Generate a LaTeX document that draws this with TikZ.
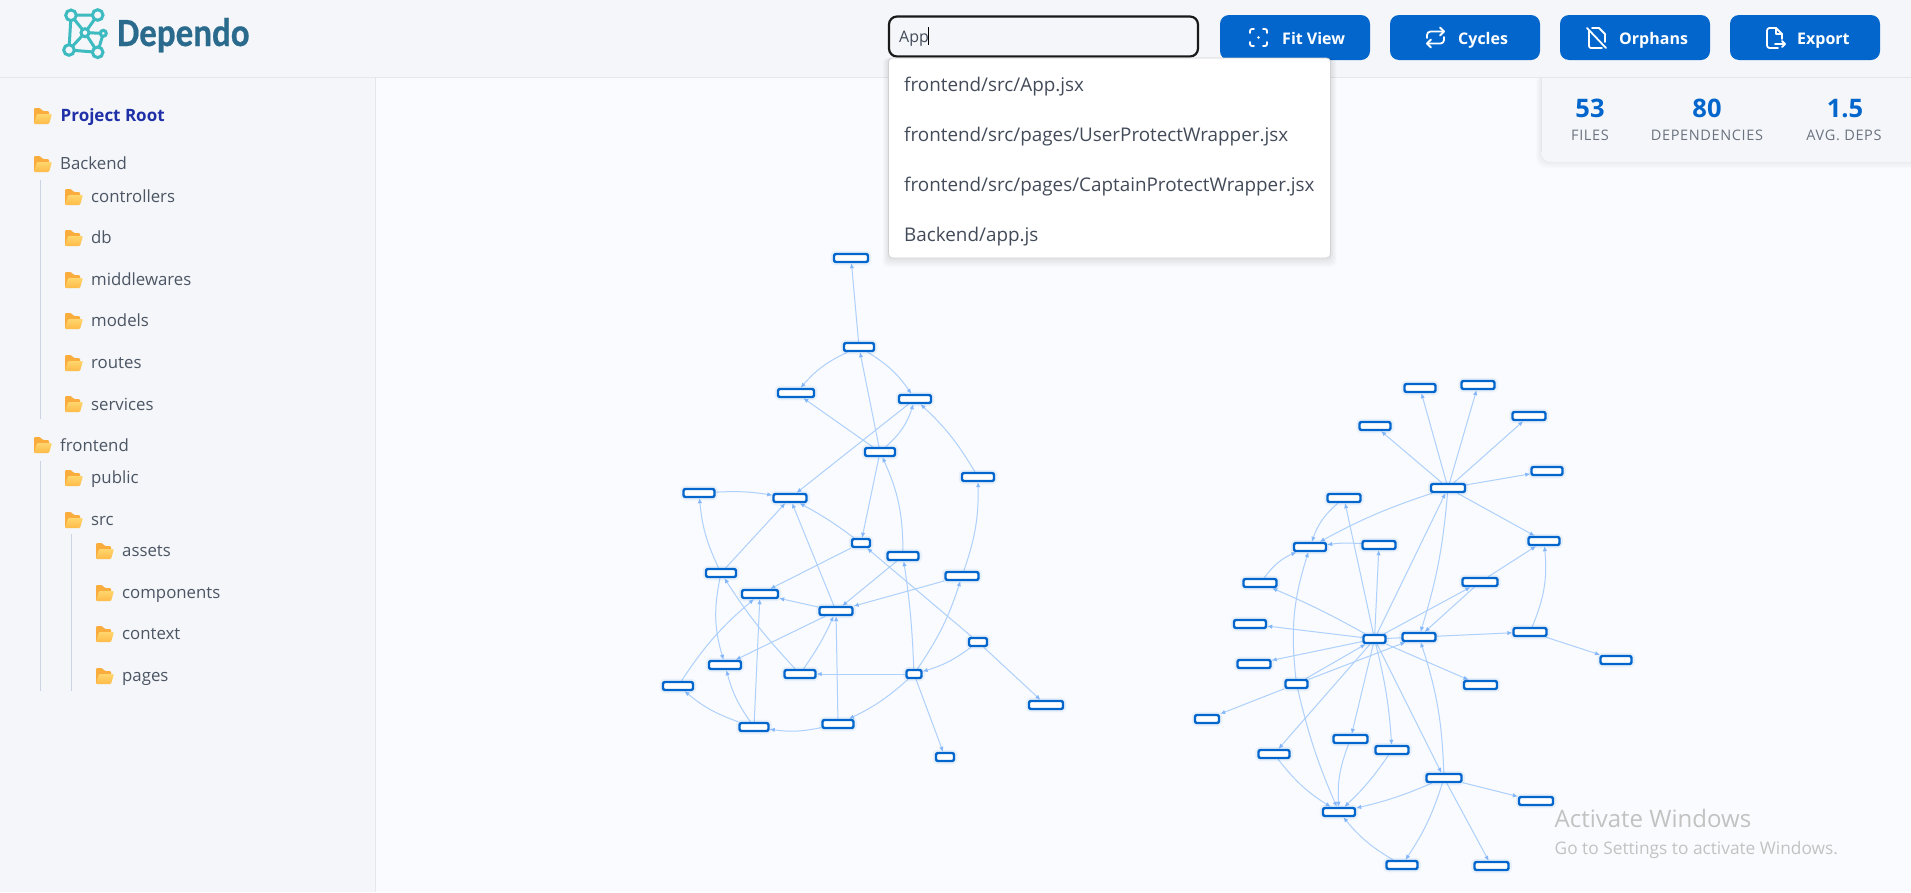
\documentclass[tikz,border=0pt]{standalone}
\usepackage{fontspec}
\setmainfont{Open Sans}
\newfontfamily\logofont[FakeBold=0.5]{Carlito}
\usetikzlibrary{arrows.meta}
\definecolor{panelbg}{HTML}{F4F6F9}
\definecolor{canvasbg}{HTML}{FAFBFE}
\definecolor{rulegray}{HTML}{E5E7EB}
\definecolor{treeline}{HTML}{CBD5E1}
\definecolor{btnblue}{HTML}{0366CC}
\definecolor{edgeblue}{HTML}{ADD0FC}
\definecolor{tipblue}{HTML}{85B8FB}
\definecolor{treetext}{HTML}{4B5563}
\definecolor{droptext}{HTML}{434B5A}
\definecolor{rootblue}{HTML}{1E2FA8}
\definecolor{logoteal}{HTML}{3DBBC0}
\definecolor{logotext}{HTML}{2A6A8C}
\definecolor{statlabel}{HTML}{6B7280}
\definecolor{winmark}{HTML}{C2C2C2}
\pgfdeclarelayer{base}
\pgfdeclarelayer{edges}
\pgfsetlayers{base,edges,main}
\tikzset{
  fnode/.style={draw=btnblue,line width=2.4pt,fill=white,rounded corners=2pt,minimum height=8pt,inner sep=0pt,
    preaction={draw=btnblue,line width=6.5pt,opacity=.07}},
  dep/.style={draw=edgeblue,line width=1pt,-{Latex[length=5pt,width=4.5pt,color=tipblue]}},
  treelab/.style={anchor=base west,inner sep=0pt,text=treetext,font=\fontsize{16.8}{20}\selectfont},
  droplab/.style={anchor=base west,inner sep=0pt,text=droptext,font=\fontsize{18.85}{22}\selectfont},
  btn/.style={fill=btnblue,draw=none,rounded corners=9pt,minimum width=150pt,minimum height=45pt,inner sep=0pt},
  btnlab/.style={anchor=base west,inner sep=0pt,text=white,font=\bfseries\fontsize{16}{20}\selectfont},
  statnum/.style={anchor=base,inner sep=0pt,text=btnblue,font=\bfseries\fontsize{25.5}{30}\selectfont},
  statlab/.style={anchor=base,inner sep=0pt,text=statlabel,font=\fontsize{14.5}{18}\selectfont\addfontfeatures{LetterSpace=4.4}},
  ico/.style={draw=white,line width=1.8pt,line cap=round,line join=round},
  pics/folderic/.style={code={
    \fill[color={rgb,255:red,250;green,172;blue,60},rounded corners=1pt] (0,0)--(6,0)--(9,3)--(15,3)--(15,8)--(0,16)--cycle;
    \shade[top color={rgb,255:red,255;green,214;blue,110},bottom color={rgb,255:red,255;green,186;blue,72},rounded corners=1pt] (3,6)--(18,6)--(15,16)--(0,16)--cycle;
  }}
}
\newcommand{\fnod}[4]{\node[fnode,minimum width=#4pt] (#1) at (#2,#3) {};}
\newcommand{\treeitem}[5]{\pic at (#2,#4) {folderic}; \node[treelab] (#1) at (#3,#5) {#1};}
\begin{document}
\begin{tikzpicture}[x=1pt,y=-1pt]
\useasboundingbox (0,0) rectangle (1911,892);
\begin{pgfonlayer}{base}
\fill[canvasbg] (0,0) rectangle (1911,892);
\fill[panelbg] (0,0) rectangle (1911,77.5);
\fill[panelbg] (0,77.5) rectangle (375,892);
\draw[rulegray,line width=1pt] (0,77.5) -- (1911,77.5);
\draw[rulegray,line width=1pt] (375.5,77.5) -- (375.5,892);
\end{pgfonlayer}
% logo
\begin{scope}[draw=logoteal,line width=3pt]
\draw (71,15.3) -- (97.7,15) (71,15.3) -- (85,32.7) -- (97.7,52.3) (97.7,15) -- (85,32.7) -- (69,50) (69,50) -- (97.7,52.3) (85,32.7) -- (103.3,33.3) -- (97.7,52.3) (71,15.3) -- (69,50);
\draw[fill=panelbg] (71,15.3) circle (5.3) (97.7,15) circle (5.3) (85,32.7) circle (4) (103.3,33.3) circle (3) (69,50) circle (5.3) (97.7,52.3) circle (5.3);
\end{scope}
\node[anchor=base west,inner sep=0pt,text=logotext,font=\logofont\bfseries\fontsize{40}{44}\selectfont] (logotitle) at (117,46) {\scalebox{.875}[1]{Dependo}};
% tree
\draw[treeline,line width=1pt] (40.5,180) -- (40.5,419);
\draw[treeline,line width=1pt] (40.5,461) -- (40.5,691);
\draw[treeline,line width=1pt] (71.5,534) -- (71.5,691);
\pic at (34,108) {folderic};
\node[treelab,text=rootblue,font=\bfseries\fontsize{17}{20}\selectfont] (root) at (60.5,121) {Project Root};
\treeitem{Backend}{34}{60}{156}{169.5}
\treeitem{controllers}{65}{91}{189}{202.5}
\treeitem{db}{65}{91}{230}{243.5}
\treeitem{middlewares}{65}{91}{272}{285.5}
\treeitem{models}{65}{91}{313}{326.5}
\treeitem{routes}{65}{91}{355}{368.5}
\treeitem{services}{65}{91}{396}{410}
\treeitem{frontend}{34}{60}{437}{451}
\treeitem{public}{65}{91}{470}{483}
\treeitem{src}{65}{91}{512}{525}
\treeitem{assets}{96}{122}{543}{556}
\treeitem{components}{96}{122}{585}{598}
\treeitem{context}{96}{122}{626}{639}
\treeitem{pages}{96}{122}{668}{681}
% buttons
\node[btn] (bfit) at (1295,37.5) {};
\node[btn] (bcyc) at (1465,37.5) {};
\node[btn] (borph) at (1635,37.5) {};
\node[btn] (bexp) at (1805,37.5) {};
\node[btnlab] (lfit) at (1282,44.5) {Fit View};
\node[btnlab] (lcyc) at (1458,44.5) {Cycles};
\node[btnlab] (lorph) at (1619,44.5) {Orphans};
\node[btnlab] (lexp) at (1797,44.5) {Export};
% fit icon
\draw[ico,rounded corners=2pt] (1250,33) -- (1250,29) -- (1254,29);
\draw[ico,rounded corners=2pt] (1263,29) -- (1267,29) -- (1267,33);
\draw[ico,rounded corners=2pt] (1250,42) -- (1250,46) -- (1254,46);
\draw[ico,rounded corners=2pt] (1263,46) -- (1267,46) -- (1267,42);
\fill[white] (1258.5,37.5) circle (1.4);
% cycle icon
\draw[ico,rounded corners=3.5pt] (1427,38) -- (1427,31.5) -- (1444,31.5);
\draw[ico] (1440,27.5) -- (1444,31.5) -- (1440,35.5);
\draw[ico,rounded corners=3.5pt] (1444,37) -- (1444,43.5) -- (1427,43.5);
\draw[ico] (1431,39.5) -- (1427,43.5) -- (1431,47.5);
% orphan icon
\draw[ico,rounded corners=2pt] (1589,31) -- (1589,48) -- (1602,48);
\draw[ico] (1592,28) -- (1599,28) -- (1605,34) -- (1605,42);
\draw[ico] (1587,28) -- (1606,48);
% export icon
\draw[ico,rounded corners=2.5pt] (1778,48) -- (1767,48) -- (1767,28) -- (1776,28);
\draw[ico] (1776,28) -- (1782,34) -- (1782,39);
\draw[ico] (1776,28) -- (1776,34) -- (1782,34);
\draw[ico] (1775,44) -- (1785,44);
\draw[ico] (1782,41) -- (1785,44) -- (1782,47);
% stats
\foreach \k in {1,...,5}{\fill[black,opacity=.012,rounded corners=10pt] ({1541-\k},72) rectangle (1925,{162+\k*1.2});}
\fill[panelbg,rounded corners=10pt] (1541,70) rectangle (1925,162);
\draw[rulegray,line width=.8pt] (1541,77.5) -- (1541,152);
\fill[panelbg] (1530,67) rectangle (1911,77);
\draw[rulegray,line width=1pt] (1000,77.5) -- (1911,77.5);
\node[statnum] (n1) at (1590,117) {53};
\node[statnum] (n2) at (1707,117) {80};
\node[statnum] (n3) at (1845,117) {1.5};
\node[statlab] (s1) at (1590,140) {FILES};
\node[statlab] (s2) at (1707,140) {DEPENDENCIES};
\node[statlab] (s3) at (1844,140) {AVG. DEPS};
% search
\node[draw=black!90,line width=2.2pt,rounded corners=8pt,fill=panelbg,minimum width=309pt,minimum height=40pt,inner sep=0pt] (search) at (1043.5,36.5) {};
\node[anchor=base west,inner sep=0pt,text=droptext,font=\fontsize{16}{20}\selectfont] (typed) at (899,42) {App};
\draw[black,line width=1pt] (928.7,27) -- (928.7,45);
% dropdown
\foreach \k in {1,...,6}{\fill[black,opacity=.016,rounded corners=5pt] ({888.5-\k},58) rectangle ({1330.5+\k},{258+\k*1.5});}
\node[draw=black!18,line width=.8pt,rounded corners=4pt,fill=white,minimum width=442pt,minimum height=200pt,inner sep=0pt] (drop) at (1109.5,158) {};
\node[droplab] (d1) at (904,91) {frontend/src/App.jsx};
\node[droplab] (d2) at (904,141) {frontend/src/pages/UserProtectWrapper.jsx};
\node[droplab] (d3) at (904,191) {frontend/src/pages/CaptainProtectWrapper.jsx};
\node[droplab] (d4) at (904,241) {Backend/app.js};
% left graph nodes
\fnod{A}{851}{258}{34}
\fnod{B}{859}{347}{30}
\fnod{C}{796}{393}{36}
\fnod{D}{915}{399}{32}
\fnod{E}{880}{452}{30}
\fnod{F}{978}{477}{32}
\fnod{G}{699}{493}{31}
\fnod{H}{790}{498}{33}
\fnod{I}{861}{543}{18}
\fnod{J}{903}{556}{31}
\fnod{K}{962}{576}{33}
\fnod{L}{721}{573}{30}
\fnod{M}{760}{594}{36}
\fnod{N}{836}{611}{33}
\fnod{O}{978}{642}{18}
\fnod{P}{725}{665}{32}
\fnod{Q}{800}{674}{31}
\fnod{R}{914}{674}{15}
\fnod{S}{678}{686}{30}
\fnod{T}{1046}{705}{34}
\fnod{U}{754}{727}{29}
\fnod{V}{838}{724}{31}
\fnod{W}{945}{757}{18}
% right graph nodes
\fnod{a}{1420}{388}{31}
\fnod{b}{1478}{385}{33}
\fnod{c}{1529}{416}{33}
\fnod{d}{1375}{426}{31}
\fnod{e}{1547}{471}{31}
\fnod{f}{1448}{488}{34}
\fnod{g}{1344}{498}{33}
\fnod{h}{1310}{547}{32}
\fnod{i}{1379}{545}{33}
\fnod{j}{1544}{541}{31}
\fnod{k}{1260}{583}{33}
\fnod{l}{1480}{582}{35}
\fnod{m}{1250}{624}{32}
\fnod{n}{1374.5}{639}{22}
\fnod{o}{1419}{637}{33}
\fnod{p}{1530}{632}{33}
\fnod{q}{1616}{660}{31}
\fnod{r}{1254}{664}{33}
\fnod{s}{1296.5}{684}{22}
\fnod{t}{1480.5}{685}{33}
\fnod{u}{1207}{719}{24}
\fnod{v}{1350.5}{739}{34}
\fnod{w}{1274}{754}{31}
\fnod{x}{1392}{750}{33}
\fnod{y}{1444}{778}{35}
\fnod{z}{1536}{801}{34}
\fnod{aa}{1339}{812}{32}
\fnod{bb}{1402}{865}{31}
\fnod{cc}{1491.5}{866}{34}
\begin{pgfonlayer}{edges}
\draw[dep] (B) -- (A);
\draw[dep] (B) to[bend right=12] (C);
\draw[dep] (B) to[bend left=12] (D);
\draw[dep] (E) -- (B);
\draw[dep] (E) -- (C);
\draw[dep] (E) to[bend right=15] (D);
\draw[dep] (D) -- (H);
\draw[dep] (E) -- (I);
\draw[dep] (J) to[bend right=12] (E);
\draw[dep] (F) to[bend right=8] (D);
\draw[dep] (K) to[bend right=10] (F);
\draw[dep] (G) to[bend left=6] (H);
\draw[dep] (L) to[bend left=10] (G);
\draw[dep] (L) -- (H);
\draw[dep] (N) -- (H);
\draw[dep] (I) to[bend right=4] (H);
\draw[dep] (I) -- (M);
\draw[dep] (J) -- (N);
\draw[dep] (K) -- (N);
\draw[dep] (N) -- (M);
\draw[dep] (N) -- (P);
\draw[dep] (Q) to[bend right=5] (N);
\draw[dep] (Q) to[bend left=5] (L);
\draw[dep] (S) to[bend left=8] (M);
\draw[dep] (L) to[bend right=14] (P);
\draw[dep] (U) -- (M);
\draw[dep] (U) to[bend left=10] (P);
\draw[dep] (U) to[bend left=10] (S);
\draw[dep] (V) -- (N);
\draw[dep] (V) to[bend left=10] (U);
\draw[dep] (R) to[bend left=8] (V);
\draw[dep] (R) to[bend right=8] (K);
\draw[dep] (R) -- (Q);
\draw[dep] (R) to[bend right=3] (J);
\draw[dep] (O) to[bend left=10] (R);
\draw[dep] (O) -- (I);
\draw[dep] (O) -- (T);
\draw[dep] (R) -- (W);
% right graph
\draw[dep] (f) -- (a);
\draw[dep] (f) -- (b);
\draw[dep] (f) -- (c);
\draw[dep] (f) -- (d);
\draw[dep] (f) -- (e);
\draw[dep] (f) -- (j);
\draw[dep] (f) to[bend right=5] (h);
\draw[dep] (f) to[bend left=6] (o);
\draw[dep] (n) -- (f);
\draw[dep] (g) to[bend right=15] (h);
\draw[dep] (n) -- (g);
\draw[dep] (i) to[bend right=6] (h);
\draw[dep] (n) -- (i);
\draw[dep] (k) to[bend left=15] (h);
\draw[dep] (n) to[bend right=3] (k);
\draw[dep] (s) to[bend left=12] (h);
\draw[dep] (l) -- (j);
\draw[dep] (n) -- (l);
\draw[dep] (l) -- (o);
\draw[dep] (p) to[bend right=14] (j);
\draw[dep] (n) -- (p);
\draw[dep] (p) -- (q);
\draw[dep] (n) -- (m);
\draw[dep] (n) -- (r);
\draw[dep] (s) -- (n);
\draw[dep] (s) -- (o);
\draw[dep] (s) -- (u);
\draw[dep] (s) to[bend right=5] (aa);
\draw[dep] (n) -- (w);
\draw[dep] (n) -- (v);
\draw[dep] (n) to[bend left=5] (x);
\draw[dep] (n) -- (y);
\draw[dep] (n) -- (t);
\draw[dep] (y) to[bend right=8] (o);
\draw[dep] (v) to[bend right=12] (aa);
\draw[dep] (x) to[bend left=6] (aa);
\draw[dep] (w) to[bend right=10] (aa);
\draw[dep] (y) to[bend left=5] (aa);
\draw[dep] (y) -- (z);
\draw[dep] (y) to[bend left=8] (bb);
\draw[dep] (y) -- (cc);
\draw[dep] (bb) to[bend left=10] (aa);
\end{pgfonlayer}
\node[anchor=base west,inner sep=0pt,text=winmark,font=\fontsize{24}{28}\selectfont] (win1) at (1554.5,827) {Activate Windows};
\node[anchor=base west,inner sep=0pt,text=winmark,font=\fontsize{17.3}{20}\selectfont] (win2) at (1554.5,854) {Go to Settings to activate Windows.};
\end{tikzpicture}
\end{document}
